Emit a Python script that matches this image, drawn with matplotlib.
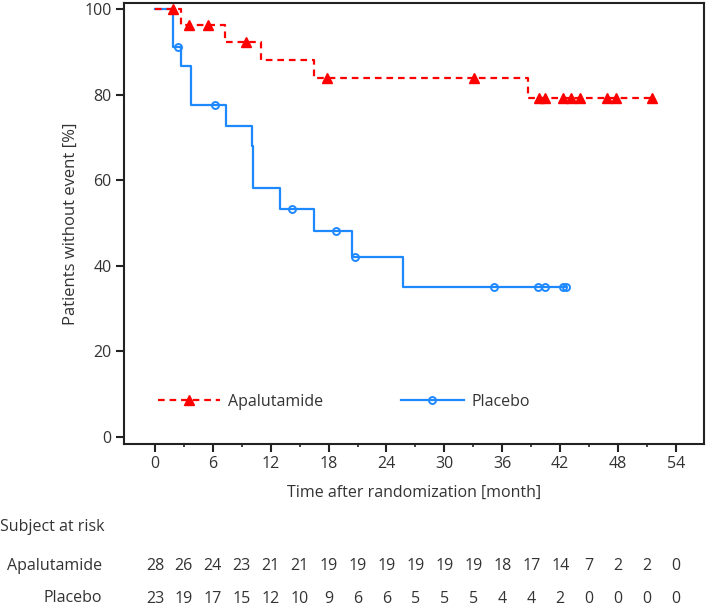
import numpy as np
import matplotlib
matplotlib.use("Agg")
import matplotlib.pyplot as plt
from matplotlib.lines import Line2D

plt.rcParams['font.family'] = ['Open Sans', 'DejaVu Sans']

# Apalutamide arm
apa_t = [0, 2.66, 7.26, 10.96, 16.5, 38.7, 51.5]
apa_s = [100, 96.4, 92.4, 88.2, 83.9, 79.3, 79.3]
apa_cens_t = [1.83, 3.56, 5.52, 9.43, 17.8, 33.06, 39.8, 40.4, 42.3, 43.1, 44.1, 46.8, 47.8, 51.5]
apa_cens_s = [100, 96.4, 96.4, 92.4, 83.9, 83.9, 79.3, 79.3, 79.3, 79.3, 79.3, 79.3, 79.3, 79.3]

# Placebo arm
pla_t = [0, 1.83, 2.7, 3.7, 7.36, 10.1, 10.2, 12.96, 16.5, 20.4, 25.7, 42.6]
pla_s = [100, 91.3, 86.7, 77.6, 72.7, 68.0, 58.3, 53.3, 48.2, 42.1, 35.1, 35.1]
pla_cens_t = [2.35, 6.2, 14.2, 18.8, 20.7, 35.1, 39.7, 40.4, 42.3, 42.6]
pla_cens_s = [91.3, 77.6, 53.3, 48.2, 42.1, 35.1, 35.1, 35.1, 35.1, 35.1]

risk_times = list(range(0, 55, 3))
apa_risk = [28, 26, 24, 23, 21, 21, 19, 19, 19, 19, 19, 19, 18, 17, 14, 7, 2, 2, 0]
pla_risk = [23, 19, 17, 15, 12, 10, 9, 6, 6, 5, 5, 5, 4, 4, 2, 0, 0, 0, 0]

red = '#ff0000'
blue = '#1e88ff'
txt = '#333333'

fig = plt.figure(figsize=(7.09, 6.12), dpi=100)
ax = fig.add_axes([124/709, 1-444/612, 580/709, 441/612])

ax.step(pla_t, pla_s, where='post', color=blue, lw=1.6)
ax.plot(pla_cens_t, pla_cens_s, 'o', ms=5, mfc='none', mec=blue, mew=1.4, ls='none')
ax.step(apa_t, apa_s, where='post', color=red, lw=1.6, dashes=(3, 2.2))
ax.plot(apa_cens_t, apa_cens_s, '^', ms=6.5, color=red, ls='none')

ax.set_xlim(-3.2, 56.9)
ax.set_ylim(-1.7, 101.5)
ax.set_xticks(range(0, 55, 6))
ax.set_xticks(range(0, 55, 3), minor=True)
ax.set_yticks(range(0, 101, 20))
ax.tick_params(axis='both', which='major', length=6, width=1.5, color='#222222',
               labelsize=11.5, labelcolor=txt, pad=3)
ax.tick_params(axis='x', which='minor', length=2, width=1.2, color='#222222')
for sp in ax.spines.values():
    sp.set_linewidth(1.5)
    sp.set_color('#222222')

ax.set_xlabel('Time after randomization [month]', fontsize=11.5, color=txt, labelpad=9)
ax.set_ylabel('Patients without event [%]', fontsize=12, color=txt, labelpad=4)

handles = [Line2D([], [], color=red, lw=1.6, dashes=(3, 2.2), marker='^', ms=6.5),
           Line2D([], [], color=blue, lw=1.6, marker='o', ms=5, mfc='none', mew=1.4)]
ax.legend(handles, ['Apalutamide', 'Placebo'], ncol=2, frameon=False, loc='center left',
          bbox_to_anchor=(0.058, 0.096), borderpad=0, borderaxespad=0,
          handlelength=3.9, handletextpad=0.5, columnspacing=4.9,
          numpoints=1, prop={'size': 11.5}, labelcolor=txt)

# number at risk table
fig.text(0, 1-527/612, 'Subject at risk', fontsize=11.5, color=txt, ha='left', va='center')
fig.text(102/709, 1-566/612, 'Apalutamide', fontsize=11.5, color=txt, ha='right', va='center')
fig.text(102/709, 1-598/612, 'Placebo', fontsize=11.5, color=txt, ha='right', va='center')
trans_a = matplotlib.transforms.blended_transform_factory(ax.transData, fig.transFigure)
for t, a, p in zip(risk_times, apa_risk, pla_risk):
    ax.text(t, 1-566/612, str(a), transform=trans_a, fontsize=11.5, color=txt,
            ha='center', va='center')
    ax.text(t, 1-599/612, str(p), transform=trans_a, fontsize=11.5, color=txt,
            ha='center', va='center')

fig.savefig('out.png', dpi=100)
